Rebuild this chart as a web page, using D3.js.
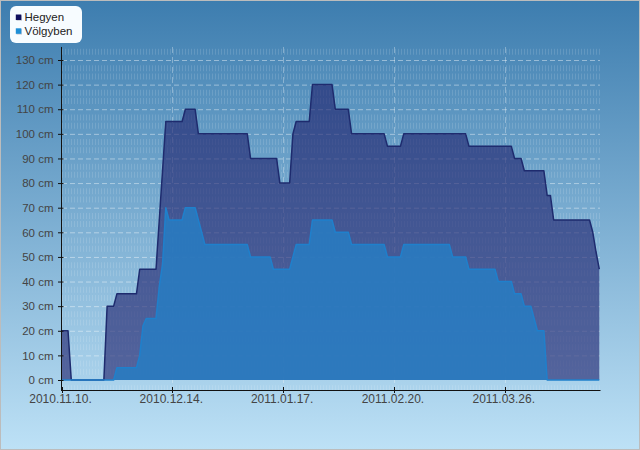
<!DOCTYPE html>
<html>
<head>
<meta charset="utf-8">
<script src="https://cdn.jsdelivr.net/npm/d3@7"></script>
<style>
  html, body { margin: 0; padding: 0; background: #fff; }
  svg { display: block; }
  text { font-family: "Liberation Sans", Arial, sans-serif; }
</style>
</head>
<body>
<svg id="chart" width="640" height="450"></svg>
<script>
// ---- data (daily values, cm) ----
const startDate = "2010-11-10";
const seriesNames = ["Hegyen", "Völgyben"];
const hegyen = [
  20,20,20,0,0,0,0,0,0,0,0,0,0,0,
  30,30,30,35,35,35,35,35,35,35,
  45,45,45,45,45,45,65,85,
  105,105,105,105,105,105,110,110,110,110,
  100,100,100,100,100,100,100,100,100,100,100,100,100,100,100,100,
  90,90,90,90,90,90,90,90,90,
  80,80,80,80,100,
  105,105,105,105,105,
  120,120,120,120,120,120,120,
  110,110,110,110,110,
  100,100,100,100,100,100,100,100,100,100,100,
  95,95,95,95,95,
  100,100,100,100,100,100,100,100,100,100,100,100,100,100,100,100,100,100,100,100,
  95,95,95,95,95,95,95,95,95,95,95,95,95,95,
  90,90,90,
  85,85,85,85,85,85,85,
  75,75,
  65,65,65,65,65,65,65,65,65,65,65,65,
  60,52,45
];
const volgyben = [
  0,0,0,0,0,0,0,0,0,0,0,0,0,0,0,0,0,
  5,5,5,5,5,5,5,
  10,22,25,25,25,25,38,47,70,
  65,65,65,65,65,
  70,70,70,70,65,60,
  55,55,55,55,55,55,55,55,55,55,55,55,55,55,
  50,50,50,50,50,50,50,
  45,45,45,45,45,45,50,
  55,55,55,55,55,
  65,65,65,65,65,65,65,
  60,60,60,60,60,
  55,55,55,55,55,55,55,55,55,55,55,
  50,50,50,50,50,
  55,55,55,55,55,55,55,55,55,55,55,55,55,55,55,
  50,50,50,50,50,
  45,45,45,45,45,45,45,45,45,
  40,40,40,40,40,
  35,35,35,
  30,30,30,25,
  20,20,20,
  0,0,0,0,0,0,0,0,0,0,0,0,0,0,0,0,0
];
const xTickDates = ["2010-11-10","2010-12-14","2011-01-17","2011-02-20","2011-03-26"];
const xTickLabels = ["2010.11.10.","2010.12.14.","2011.01.17.","2011.02.20.","2011.03.26."];
const yTicks = [0,10,20,30,40,50,60,70,80,90,100,110,120,130];
const yTickLabels = yTicks.map(v => v + " cm");

// ---- setup ----
const svg = d3.select("#chart");
const W = 640, H = 450;
const parse = d3.utcParse("%Y-%m-%d");
const t0 = parse(startDate);
const dates = hegyen.map((_, i) => d3.utcDay.offset(t0, i));

const x = d3.scaleUtc().domain([t0, dates[dates.length - 1]]).range([61.5, 599.3]);
const y = d3.scaleLinear().domain([0, 130]).range([380, 60]);
const plotTop = y(135.3), plotBottom = 390, plotLeft = 61, plotRight = 600;

// background gradient
const defs = svg.append("defs");
const bg = defs.append("linearGradient").attr("id", "bg").attr("x1", 0).attr("y1", 0).attr("x2", 0).attr("y2", 1);
bg.append("stop").attr("offset", "0%").attr("stop-color", "#3d7daf");
bg.append("stop").attr("offset", "100%").attr("stop-color", "#bde1f6");
svg.append("rect").attr("x", 0.5).attr("y", 0.5).attr("width", W - 1).attr("height", H - 1)
  .attr("fill", "url(#bg)").attr("stroke", "#bcbcbc");

// grid
const grid = svg.append("g");
// minor horizontal (dotted thick bands)
const minorVals = [];
for (let k = -1; k <= 40; k++) if (k % 3 !== 0) minorVals.push(k * 10 / 3);
grid.selectAll(".minor").data(minorVals).join("line")
  .attr("x1", plotLeft + 1).attr("x2", plotRight)
  .attr("y1", d => y(d)).attr("y2", d => y(d))
  .attr("stroke", "#ffffff").attr("stroke-opacity", 0.13)
  .attr("stroke-width", 6).attr("stroke-dasharray", "1,2");
// major horizontal dashed
grid.selectAll(".major").data(yTicks.filter(v => v > 0)).join("line")
  .attr("x1", plotLeft + 1).attr("x2", plotRight)
  .attr("y1", d => y(d) + 0.5).attr("y2", d => y(d) + 0.5)
  .attr("stroke", "#ffffff").attr("stroke-opacity", 0.42)
  .attr("stroke-dasharray", "5,3");
// major vertical dashed
grid.selectAll(".vmajor").data(xTickDates.slice(1)).join("line")
  .attr("x1", d => Math.round(x(parse(d))) + 0.5).attr("x2", d => Math.round(x(parse(d))) + 0.5)
  .attr("y1", plotTop).attr("y2", plotBottom)
  .attr("stroke", "#ffffff").attr("stroke-opacity", 0.32)
  .attr("stroke-dasharray", "6,4");

// areas
const idx = d3.range(dates.length);
function drawSeries(vals, fill, fillOpacity, lineColor) {
  const area = d3.area().x(i => x(dates[i])).y0(y(0)).y1(i => y(vals[i]));
  const line = d3.line().x(i => x(dates[i])).y(i => y(vals[i]));
  svg.append("path").datum(idx).attr("d", area)
    .attr("fill", fill).attr("fill-opacity", fillOpacity);
  svg.append("path").datum(idx).attr("d", line)
    .attr("fill", "none").attr("stroke", lineColor).attr("stroke-width", 1.5)
    .attr("stroke-linejoin", "round");
}
drawSeries(hegyen, "#1f206c", 0.62, "#1e2b6e");
drawSeries(volgyben, "rgb(40,125,195)", 0.86, "#1f80cc");

// axes
const ax = svg.append("g").attr("stroke", "#111");
ax.append("line").attr("x1", 61.5).attr("x2", 61.5).attr("y1", plotTop).attr("y2", plotBottom + 1);
ax.append("line").attr("x1", 61).attr("x2", plotRight + 0.5).attr("y1", plotBottom + 0.5).attr("y2", plotBottom + 0.5);
ax.selectAll(".yt").data(yTicks).join("line")
  .attr("x1", 58).attr("x2", 63.5)
  .attr("y1", d => y(d) + 0.5).attr("y2", d => y(d) + 0.5);
ax.selectAll(".xt").data(xTickDates).join("line")
  .attr("x1", d => Math.round(x(parse(d))) + 0.5).attr("x2", d => Math.round(x(parse(d))) + 0.5)
  .attr("y1", 387).attr("y2", 393);

// tick labels
svg.selectAll(".yl").data(yTicks).join("text")
  .attr("x", 53.5).attr("y", d => y(d) + 4.2)
  .attr("text-anchor", "end").attr("font-size", "11.5px").attr("fill", "#444")
  .text((d, i) => yTickLabels[i]);
svg.selectAll(".xl").data(xTickDates).join("text")
  .attr("x", d => x(parse(d)) - 1).attr("y", 402.7)
  .attr("text-anchor", "middle").attr("font-size", "12px").attr("fill", "#444")
  .text((d, i) => xTickLabels[i]);

// legend
const lg = svg.append("g");
lg.append("rect").attr("x", 10).attr("y", 6).attr("width", 72).attr("height", 37).attr("rx", 6)
  .attr("fill", "#f7fcff");
const legendColors = ["#10105e", "#1e8fd6"];
seriesNames.forEach((name, i) => {
  const yy = 14.5 + i * 13.8;
  lg.append("rect").attr("x", 16.5).attr("y", yy + 0.8).attr("width", 5.5).attr("height", 5.5).attr("fill", "#c8ccd8");
  lg.append("rect").attr("x", 15.8).attr("y", yy).attr("width", 5.5).attr("height", 5.5).attr("fill", legendColors[i]);
  lg.append("text").attr("x", 24.5).attr("y", yy + 6.2).attr("font-size", "11.5px").attr("fill", "#222").text(name);
});
</script>
</body>
</html>
